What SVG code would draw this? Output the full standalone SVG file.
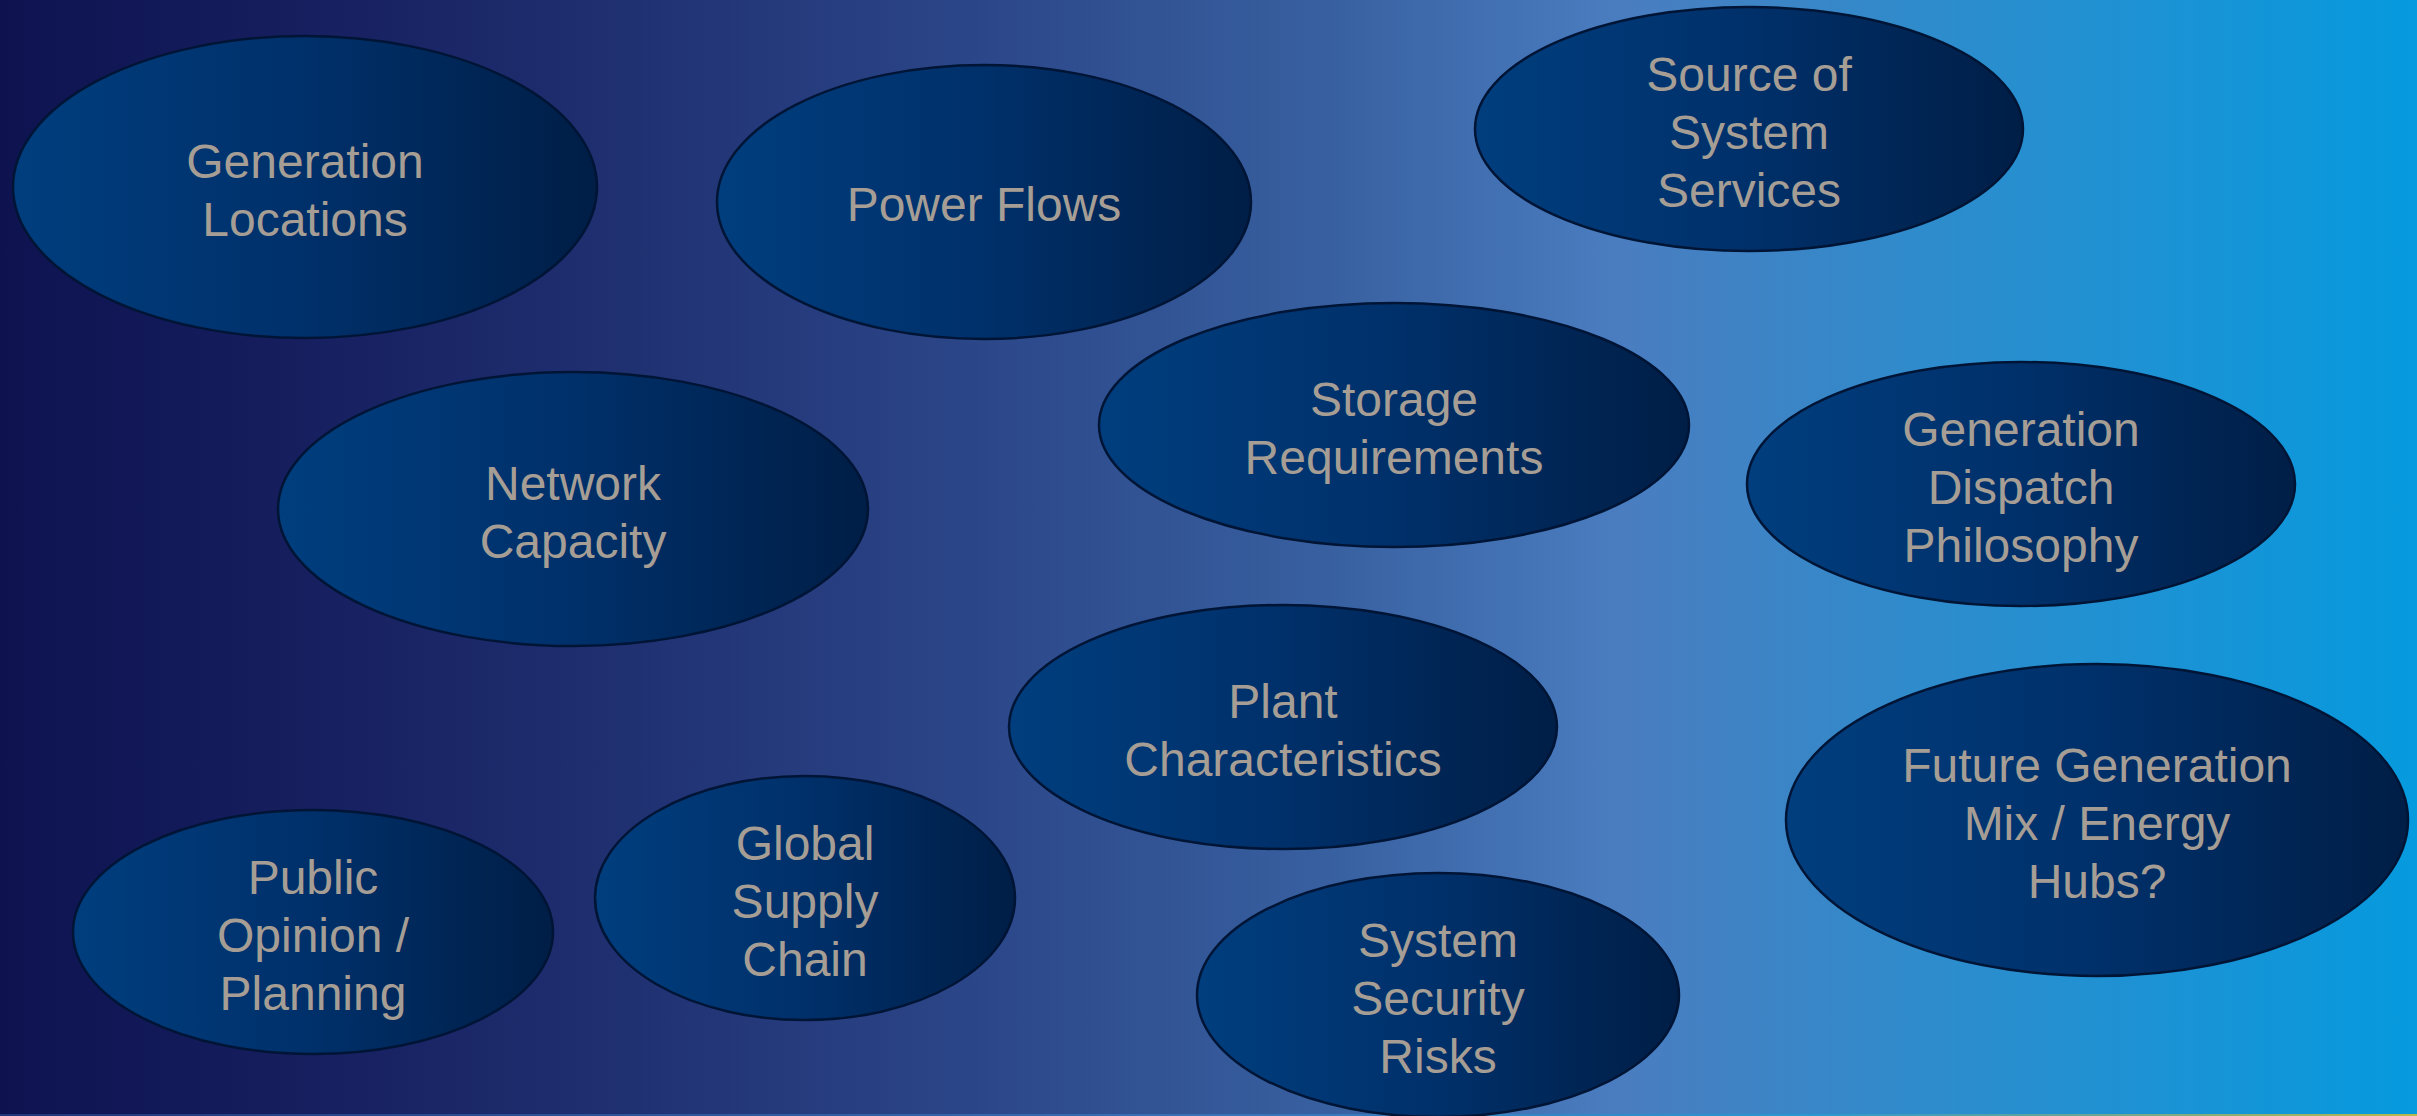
<svg xmlns="http://www.w3.org/2000/svg" width="2417" height="1116" viewBox="0 0 2417 1116">
<defs>
<linearGradient id="bg" x1="0" y1="0" x2="2417" y2="0" gradientUnits="userSpaceOnUse">
<stop offset="0" stop-color="#0e1350"/>
<stop offset="0.12" stop-color="#161e5e"/>
<stop offset="0.25" stop-color="#1f2f70"/>
<stop offset="0.4" stop-color="#2b4688"/>
<stop offset="0.55" stop-color="#3860a0"/>
<stop offset="0.67" stop-color="#4a7dc0"/>
<stop offset="0.8" stop-color="#2e8ccc"/>
<stop offset="1" stop-color="#069ade"/>
</linearGradient>
<linearGradient id="strip" x1="0" y1="0" x2="1" y2="0">
<stop offset="0" stop-color="#22357a"/>
<stop offset="0.5" stop-color="#3a70b8"/>
<stop offset="0.75" stop-color="#2a98d0"/>
<stop offset="1" stop-color="#b8b84a"/>
</linearGradient>
<linearGradient id="node" x1="0" y1="0" x2="1" y2="0">
<stop offset="0" stop-color="#003e7e"/>
<stop offset="0.5" stop-color="#00306a"/>
<stop offset="1" stop-color="#001e46"/>
</linearGradient>
<style>
.n ellipse{fill:url(#node);stroke:#001535;stroke-width:2.5}
.n text{font-family:"Liberation Sans",Arial,sans-serif;font-size:48px;fill:#a69e95;text-anchor:middle}
</style>
</defs>
<rect x="0" y="0" width="2417" height="1116" fill="url(#bg)"/>
<rect x="0" y="1114" width="2417" height="2" fill="url(#strip)"/>
<g id="connectors"/>
<g id="generation-locations" class="n">
<ellipse cx="305" cy="187" rx="292" ry="151"/>
<text x="305" y="178">Generation</text>
<text x="305" y="236">Locations</text>
</g>
<g id="power-flows" class="n">
<ellipse cx="984" cy="202" rx="267" ry="137"/>
<text x="984" y="221">Power Flows</text>
</g>
<g id="source-of-system-services" class="n">
<ellipse cx="1749" cy="129" rx="274" ry="122"/>
<text x="1749" y="91">Source of</text>
<text x="1749" y="149">System</text>
<text x="1749" y="207">Services</text>
</g>
<g id="network-capacity" class="n">
<ellipse cx="573" cy="509" rx="295" ry="137"/>
<text x="573" y="500">Network</text>
<text x="573" y="558">Capacity</text>
</g>
<g id="storage-requirements" class="n">
<ellipse cx="1394" cy="425" rx="295" ry="122"/>
<text x="1394" y="416">Storage</text>
<text x="1394" y="474">Requirements</text>
</g>
<g id="generation-dispatch-philosophy" class="n">
<ellipse cx="2021" cy="484" rx="274" ry="122"/>
<text x="2021" y="446">Generation</text>
<text x="2021" y="504">Dispatch</text>
<text x="2021" y="562">Philosophy</text>
</g>
<g id="plant-characteristics" class="n">
<ellipse cx="1283" cy="727" rx="274" ry="122"/>
<text x="1283" y="718">Plant</text>
<text x="1283" y="776">Characteristics</text>
</g>
<g id="future-generation-mix" class="n">
<ellipse cx="2097" cy="820" rx="311" ry="156"/>
<text x="2097" y="782">Future Generation</text>
<text x="2097" y="840">Mix / Energy</text>
<text x="2097" y="898">Hubs?</text>
</g>
<g id="public-opinion-planning" class="n">
<ellipse cx="313" cy="932" rx="240" ry="122"/>
<text x="313" y="894">Public</text>
<text x="313" y="952">Opinion /</text>
<text x="313" y="1010">Planning</text>
</g>
<g id="global-supply-chain" class="n">
<ellipse cx="805" cy="898" rx="210" ry="122"/>
<text x="805" y="860">Global</text>
<text x="805" y="918">Supply</text>
<text x="805" y="976">Chain</text>
</g>
<g id="system-security-risks" class="n">
<ellipse cx="1438" cy="995" rx="241" ry="122"/>
<text x="1438" y="957">System</text>
<text x="1438" y="1015">Security</text>
<text x="1438" y="1073">Risks</text>
</g>
</svg>
